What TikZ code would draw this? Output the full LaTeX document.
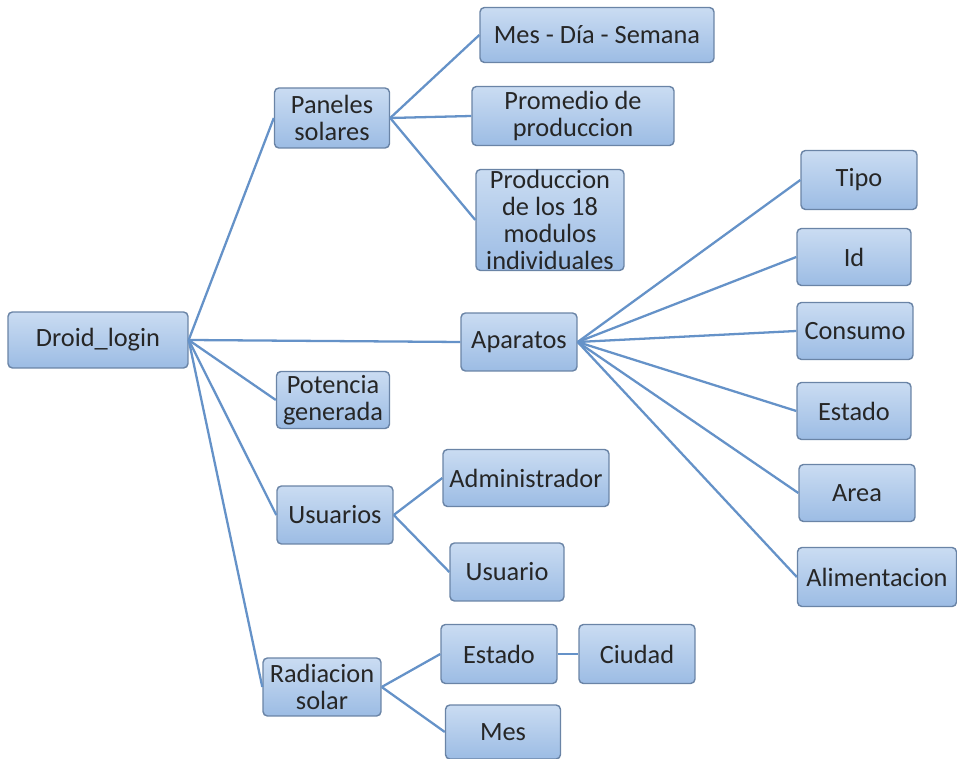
\documentclass[tikz,border=0pt]{standalone}
\usepackage{fontspec}
\setmainfont{Carlito}
\definecolor{boxtop}{HTML}{CADCF2}
\definecolor{boxbot}{HTML}{9CBCE4}
\definecolor{boxline}{HTML}{6A84A6}
\definecolor{linkblue}{HTML}{6592C8}
\begin{document}
\begin{tikzpicture}[x=0.02cm, y=-0.02cm,
	box/.style={draw=boxline, line width=0.8pt, rounded corners=2.5pt, top color=boxtop, bottom color=boxbot, align=center, inner sep=1pt, font=\fontsize{15}{15.3}\selectfont, text=black!85},
	link/.style={draw=linkblue, line width=1.3pt}]
		\useasboundingbox (0,0) rectangle (957,759);
		% root
		\node[box, minimum width=3.6cm, minimum height=1.12cm] (droid) at (98,340) {Droid\_login};
		% first level
		\node[box, minimum width=2.3cm, minimum height=1.2cm] (paneles) at (332,118) {Paneles\\solares};
		\node[box, minimum width=2.32cm, minimum height=1.16cm] (aparatos) at (519,342) {Aparatos};
		\node[box, minimum width=2.26cm, minimum height=1.14cm] (potencia) at (333,400) {Potencia\\generada};
		\node[box, minimum width=2.32cm, minimum height=1.16cm] (usuarios) at (335,515) {Usuarios};
		\node[box, minimum width=2.36cm, minimum height=1.16cm] (radiacion) at (322,687) {Radiacion\\solar};
		% paneles solares
		\node[box, minimum width=4.68cm, minimum height=1.1cm] (mes1) at (597,35) {Mes - Día - Semana};
		\node[box, minimum width=4.04cm, minimum height=1.18cm] (promedio) at (573,116) {Promedio de\\produccion};
		\node[box, minimum width=2.96cm, minimum height=2.02cm, inner sep=0pt] (modulos) at (550,220) {Produccion\\de los 18\\modulos\\individuales};
		% aparatos
		\node[box, minimum width=2.32cm, minimum height=1.18cm] (tipo) at (859,180) {Tipo};
		\node[box, minimum width=2.28cm, minimum height=1.14cm] (id) at (854,257) {Id};
		\node[box, minimum width=2.32cm, minimum height=1.14cm] (consumo) at (855,331) {Consumo};
		\node[box, minimum width=2.28cm, minimum height=1.14cm] (estado1) at (854,411) {Estado};
		\node[box, minimum width=2.32cm, minimum height=1.14cm] (area) at (857,493) {Area};
		\node[box, minimum width=3.18cm, minimum height=1.18cm] (alim) at (877,577) {Alimentacion};
		% usuarios
		\node[box, minimum width=3.32cm, minimum height=1.14cm] (admin) at (526,478) {Administrador};
		\node[box, minimum width=2.28cm, minimum height=1.16cm] (usuario) at (507,572) {Usuario};
		% radiacion solar
		\node[box, minimum width=2.32cm, minimum height=1.18cm] (estado2) at (499,654) {Estado};
		\node[box, minimum width=2.32cm, minimum height=1.18cm] (ciudad) at (637,654) {Ciudad};
		\node[box, minimum width=2.3cm, minimum height=1.08cm] (mes2) at (503,732) {Mes};
		% links
		\foreach \n in {paneles,aparatos,potencia,usuarios,radiacion}
			\draw[link] (droid.east) -- (\n.west);
		\foreach \n in {mes1,promedio,modulos}
			\draw[link] (paneles.east) -- (\n.west);
		\foreach \n in {tipo,id,consumo,estado1,area,alim}
			\draw[link] (aparatos.east) -- (\n.west);
		\foreach \n in {admin,usuario}
			\draw[link] (usuarios.east) -- (\n.west);
		\foreach \n in {estado2,mes2}
			\draw[link] (radiacion.east) -- (\n.west);
		\draw[link] (estado2.east) -- (ciudad.west);
\end{tikzpicture}
\end{document}
